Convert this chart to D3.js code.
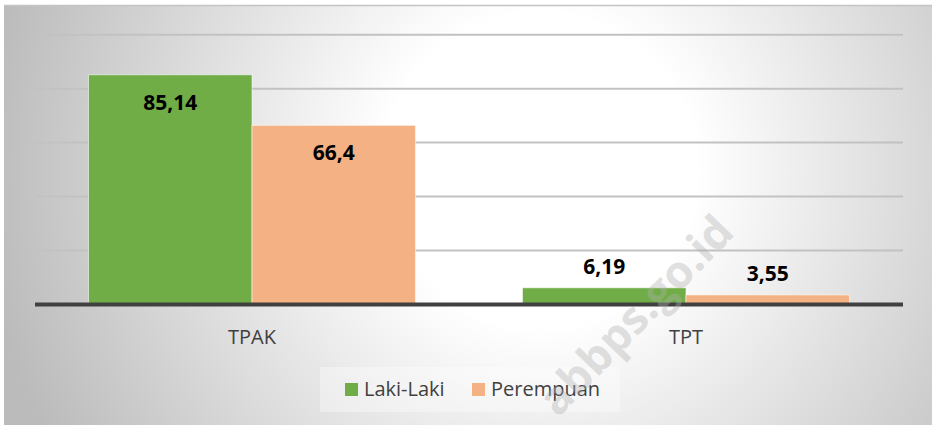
<!DOCTYPE html>
<html>
<head>
<meta charset="utf-8">
<script src="https://cdn.jsdelivr.net/npm/d3@7"></script>
<style>
  body { margin: 0; background: #fff; }
  svg { display: block; }
</style>
</head>
<body>
<div id="chart"></div>
<script>
const categories = ['TPAK', 'TPT'];
const seriesNames = ['Laki-Laki', 'Perempuan'];
const lakiLaki = [85.14, 6.19];
const perempuan = [66.4, 3.55];
const valueLabels = [['85,14', '6,19'], ['66,4', '3,55']];
const yTicks = [0, 20, 40, 60, 80, 100];
const colors = ['#70ad47', '#f4b183'];

const width = 933, height = 425;
const svg = d3.select('#chart').append('svg')
    .attr('width', width)
    .attr('height', height);

const defs = svg.append('defs');
const grad = defs.append('radialGradient')
    .attr('id', 'bg')
    .attr('gradientUnits', 'userSpaceOnUse')
    .attr('cx', 540).attr('cy', 170).attr('r', 560);
grad.append('stop').attr('offset', '0%').attr('stop-color', '#ffffff');
grad.append('stop').attr('offset', '28%').attr('stop-color', '#ffffff');
grad.append('stop').attr('offset', '100%').attr('stop-color', '#bbbbbb');

defs.append('clipPath').attr('id', 'frame')
    .append('rect').attr('x', 4).attr('y', 5).attr('width', 928).attr('height', 420);

// chart area
svg.append('rect')
    .attr('x', 4).attr('y', 5).attr('width', 928).attr('height', 420)
    .attr('fill', 'url(#bg)');
svg.append('line')
    .attr('x1', 4).attr('x2', 932).attr('y1', 5.5).attr('y2', 5.5)
    .attr('stroke', '#c4c4c4').attr('stroke-width', 1.5);

const x0 = d3.scaleBand()
    .domain(categories)
    .range([35, 903])
    .paddingInner(0.2465)
    .paddingOuter(0.1233);
const x1 = d3.scaleBand()
    .domain(seriesNames)
    .range([0, x0.bandwidth()]);
const y = d3.scaleLinear()
    .domain([0, 100])
    .range([304.5, 34.7]);

// gridlines
svg.append('g')
    .selectAll('line')
    .data(yTicks.filter(d => d > 0))
    .join('line')
    .attr('x1', 35).attr('x2', 903)
    .attr('y1', d => y(d)).attr('y2', d => y(d))
    .attr('stroke', '#c2c2c2')
    .attr('stroke-width', 2);

const series = [lakiLaki, perempuan];
const rows = [];
series.forEach((vals, s) => {
    vals.forEach((v, c) => rows.push({ s, c, v, label: valueLabels[s][c] }));
});

// bars
svg.append('g')
    .selectAll('rect')
    .data(rows)
    .join('rect')
    .attr('x', d => x0(categories[d.c]) + x1(seriesNames[d.s]))
    .attr('y', d => y(d.v))
    .attr('width', x1.bandwidth())
    .attr('height', d => y(0) - y(d.v))
    .attr('fill', d => colors[d.s])
    .attr('stroke', '#ffffff')
    .attr('stroke-opacity', 0.55)
    .attr('stroke-width', 1);

// value labels
svg.append('g')
    .selectAll('text')
    .data(rows)
    .join('text')
    .attr('x', d => x0(categories[d.c]) + x1(seriesNames[d.s]) + x1.bandwidth() / 2)
    .attr('y', d => (y(0) - y(d.v) > 60) ? y(d.v) + 35 : y(d.v) - 14)
    .attr('text-anchor', 'middle')
    .attr('font-family', 'Open Sans, sans-serif')
    .attr('font-weight', 'bold')
    .attr('font-size', 21)
    .attr('fill', '#000')
    .text(d => d.label);

// x axis baseline
svg.append('line')
    .attr('x1', 35).attr('x2', 903)
    .attr('y1', y(0)).attr('y2', y(0))
    .attr('stroke', '#404040')
    .attr('stroke-width', 4);

// category labels
const xAxis = svg.append('g')
    .attr('transform', `translate(0,${y(0)})`)
    .call(d3.axisBottom(x0).tickSize(0).tickPadding(0));
xAxis.select('.domain').remove();
xAxis.selectAll('text')
    .attr('dy', null)
    .attr('y', 39)
    .attr('font-family', 'Open Sans, sans-serif')
    .attr('font-size', 20)
    .attr('fill', '#404040');

// legend
const legend = svg.append('g');
legend.append('rect')
    .attr('x', 320).attr('y', 367).attr('width', 300).attr('height', 45)
    .attr('fill', '#ffffff').attr('fill-opacity', 0.35);
const legendX = [345, 472];
seriesNames.forEach((name, i) => {
    legend.append('rect')
        .attr('x', legendX[i]).attr('y', 383)
        .attr('width', 13).attr('height', 13)
        .attr('fill', colors[i]);
    legend.append('text')
        .attr('x', legendX[i] + 19).attr('y', 396)
        .attr('font-family', 'Open Sans, sans-serif')
        .attr('font-size', 20)
        .attr('fill', '#404040')
        .text(name);
});

// watermark, on top of everything
svg.append('g')
    .attr('clip-path', 'url(#frame)')
    .append('text')
    .attr('transform', 'translate(736,234) rotate(-46)')
    .attr('text-anchor', 'end')
    .attr('font-family', 'Open Sans, sans-serif')
    .attr('font-weight', 'bold')
    .attr('font-size', 45)
    .attr('fill', '#b0b0b0')
    .attr('fill-opacity', 0.4)
    .text('abbps.go.id');
</script>
</body>
</html>
